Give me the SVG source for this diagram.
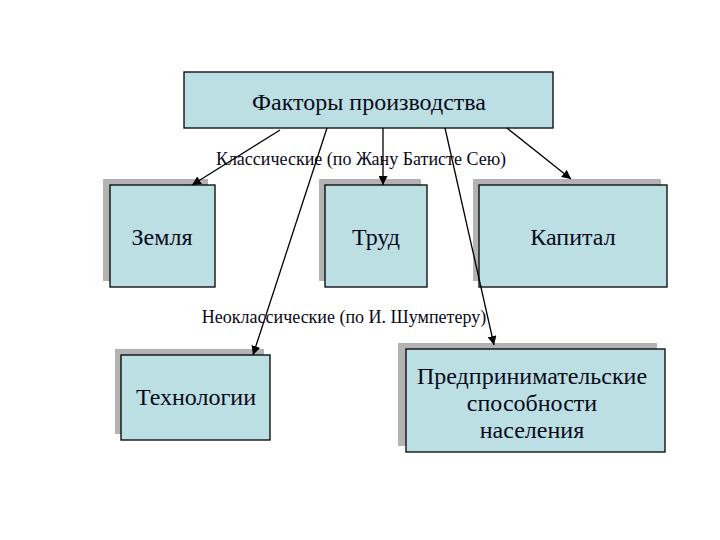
<svg xmlns="http://www.w3.org/2000/svg" width="720" height="540" viewBox="0 0 720 540">
<style>
.box{fill:#bbdfe3;stroke:#000;stroke-width:1.3}
.shadow{fill:#b3b3b3}
.t{font-family:"Liberation Serif","Times New Roman",serif;fill:#0a0a1a;text-anchor:middle}
.big{font-size:24px}
.small{font-size:18px}
.conn{stroke:#000;stroke-width:1.3;fill:none;marker-end:url(#arr)}
</style>
<defs>
<marker id="arr" viewBox="0 0 10 10" refX="10" refY="5" markerWidth="9" markerHeight="9" markerUnits="userSpaceOnUse" orient="auto">
<path d="M0,0 L10,5 L0,10 z" fill="#000"/>
</marker>
</defs>
<rect width="720" height="540" fill="#fff"/>
<g id="root">
<rect class="box" x="184" y="72" width="369" height="56"/>
<text class="t big" x="369" y="110">Факторы производства</text>
</g>
<g id="zemlya">
<rect class="shadow" x="103" y="179" width="105" height="102"/>
<rect class="box" x="110" y="185" width="105" height="102"/>
<text class="t big" x="162" y="245">Земля</text>
</g>
<g id="trud">
<rect class="shadow" x="319" y="179" width="102" height="102"/>
<rect class="box" x="325" y="185" width="102" height="102"/>
<text class="t big" x="376" y="245">Труд</text>
</g>
<g id="kapital">
<rect class="shadow" x="473" y="179" width="188" height="102"/>
<rect class="box" x="479" y="185" width="188" height="102"/>
<text class="t big" x="573" y="245">Капитал</text>
</g>
<g id="tech">
<rect class="shadow" x="115" y="349" width="149" height="85"/>
<rect class="box" x="121" y="355" width="149" height="85"/>
<text class="t big" x="196" y="405">Технологии</text>
</g>
<g id="predpr">
<rect class="shadow" x="398" y="343" width="259" height="103"/>
<rect class="box" x="406" y="349" width="259" height="103"/>
<text class="t big" x="532" y="384">Предпринимательские</text>
<text class="t big" x="532" y="411">способности</text>
<text class="t big" x="532" y="438">населения</text>
</g>
<g id="labels">
<text class="t small" x="361" y="165">Классические (по Жану Батисте Сею)</text>
<text class="t small" x="344" y="323">Неоклассические (по И. Шумпетеру)</text>
</g>
<g id="connectors">
<line class="conn" x1="280" y1="130" x2="192" y2="185"/>
<line class="conn" x1="327" y1="128" x2="253" y2="355"/>
<line class="conn" x1="383" y1="128" x2="383" y2="185"/>
<line class="conn" x1="445" y1="128" x2="494" y2="345"/>
<line class="conn" x1="507" y1="128" x2="571" y2="179"/>
</g>
</svg>
